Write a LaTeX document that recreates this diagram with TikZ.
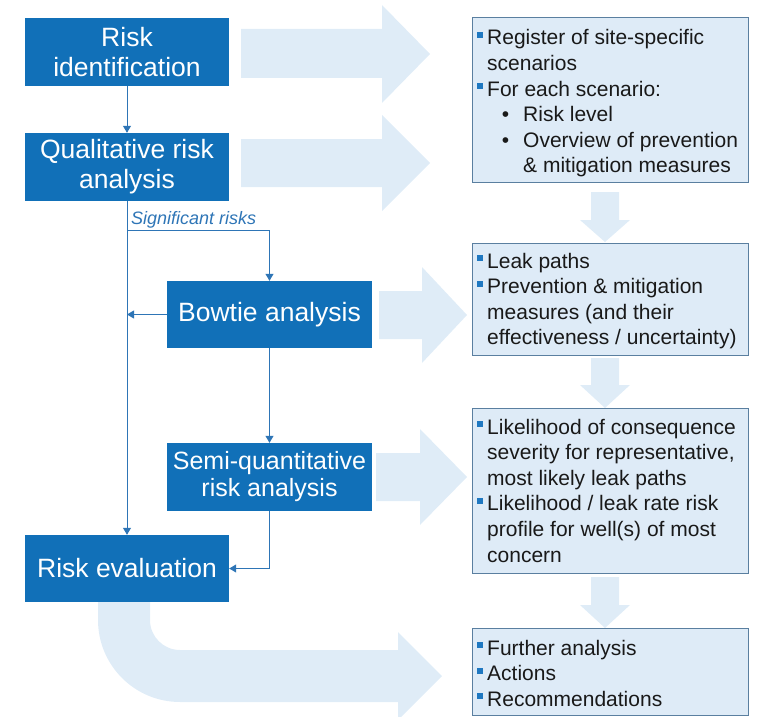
\documentclass[tikz,border=0pt]{standalone}
\usepackage{fontspec}
\setmainfont{Liberation Sans}
\usetikzlibrary{arrows.meta}
\definecolor{dkblue}{HTML}{1170B8}
\definecolor{lnblue}{HTML}{2E75B6}
\definecolor{ltblue}{HTML}{DFECF7}
\definecolor{bxfill}{HTML}{DEEBF7}
\definecolor{bxline}{HTML}{5A7FA0}
\definecolor{bulblue}{HTML}{1F78C1}
\newcommand{\sqb}{\leavevmode\llap{\textcolor{bulblue}{\rule[7pt]{6pt}{6pt}}\hspace{4pt}}}
\newcommand{\subb}[1]{\leavevmode\hspace*{36pt}\llap{\textbullet\hspace{14pt}}#1}
\newcommand{\hang}{\leavevmode\hspace*{36pt}}
\begin{document}
\begin{tikzpicture}[x=1pt,y=-1pt,
  darkbox/.style={fill=dkblue, text=white, minimum width=204pt, minimum height=68pt,
    align=center, inner sep=0pt, font=\fontsize{26.5}{30}\selectfont},
  infobox/.style={draw=bxline, fill=bxfill, line width=0.8pt, minimum width=276pt, inner sep=0pt},
  infotext/.style={anchor=base west, inner sep=0pt, font=\fontsize{21}{25.6}\selectfont, text=black!90},
  flow/.style={draw=lnblue, line width=1pt, -{Triangle[length=7pt,width=8pt]}},
  bigarrow/.style={fill=ltblue}]
\useasboundingbox (0,0) rectangle (780,717);
% big light arrows
\fill[bigarrow] (241,29) -- (382,29) -- (382,5) -- (430,54) -- (382,103) -- (382,78) -- (241,78) -- cycle;
\fill[bigarrow] (241,139) -- (382,139) -- (382,115) -- (430,163) -- (382,211) -- (382,187) -- (241,187) -- cycle;
\fill[bigarrow] (379,291) -- (422,291) -- (422,267) -- (467,315) -- (422,363) -- (422,339) -- (379,339) -- cycle;
\fill[bigarrow] (376,453) -- (420,453) -- (420,429) -- (467,477) -- (420,525) -- (420,501) -- (376,501) -- cycle;
\fill[bigarrow] (98,590) -- (150,590) -- (150,620) .. controls (150,636.6) and (163.4,650) .. (180,650)
  -- (398,650) -- (398,632) -- (442,676) -- (398,720) -- (398,702) -- (180,702)
  .. controls (134.7,702) and (98,665.3) .. (98,620) -- cycle;
% down arrows
\fill[bigarrow] (591,192) -- (619,192) -- (619,220) -- (630,220) -- (605,242) -- (580,220) -- (591,220) -- cycle;
\fill[bigarrow] (591,358) -- (619,358) -- (619,385) -- (630,385) -- (605,408) -- (580,385) -- (591,385) -- cycle;
\fill[bigarrow] (591,577) -- (619,577) -- (619,605) -- (630,605) -- (605,628) -- (580,605) -- (591,605) -- cycle;
% info boxes
\node[infobox, minimum height=165pt] (o1) at (610,99.5) {};
\node[infobox, minimum height=112pt] (o2) at (610,299) {};
\node[infobox, minimum height=165pt] (o3) at (610,490.5) {};
\node[infobox, minimum height=87pt] (o4) at (610,671.5) {};
\node[infotext] (t1) at (487,45) {\parbox[t]{260pt}{\raggedright
  \sqb Register of site-specific\\
  scenarios\\
  \sqb For each scenario:\\
  \subb{Risk level}\\
  \subb{Overview of prevention}\\
  \hang\& mitigation measures}};
\node[infotext] (t2) at (487,268) {\parbox[t]{260pt}{\raggedright
  \sqb Leak paths\\
  \sqb Prevention \& mitigation\\
  measures (and their\\
  effectiveness / uncertainty)}};
\node[infotext] (t3) at (487,434) {\parbox[t]{260pt}{\raggedright
  \sqb Likelihood of consequence\\
  severity for representative,\\
  most likely leak paths\\
  \sqb Likelihood / leak rate risk\\
  profile for well(s) of most\\
  concern}};
\node[infotext] (t4) at (487,655) {\parbox[t]{260pt}{\raggedright
  \sqb Further analysis\\
  \sqb Actions\\
  \sqb Recommendations}};
% process boxes
\node[darkbox] (rid) at (127,52) {Risk\\identification};
\node[darkbox] (qra) at (127,167) {Qualitative risk\\analysis};
\node[darkbox, minimum width=205pt, minimum height=67pt] (bow) at (269.5,314.5) {Bowtie analysis};
\node[darkbox, minimum width=205pt, font=\fontsize{25}{27}\selectfont] (sqa) at (269.5,477) {Semi-quantitative\\risk analysis};
\node[darkbox, minimum height=67pt] (rev) at (127,568.5) {Risk evaluation};
% connectors
\coordinate (sig) at (127,230);
\coordinate (bwl) at (127,314.5);
\draw[flow] (rid) -- (qra);
\draw[flow] (qra) -- (rev);
\draw[flow] (sig) -| (bow);
\draw[flow] (bow) -- (bwl);
\draw[flow] (bow) -- (sqa);
\draw[flow] (sqa) |- (rev);
\node[anchor=base west, inner sep=0pt, text=lnblue, font=\fontsize{18}{20}\selectfont\itshape] (siglbl) at (131,224.5) {Significant risks};
\end{tikzpicture}
\end{document}
